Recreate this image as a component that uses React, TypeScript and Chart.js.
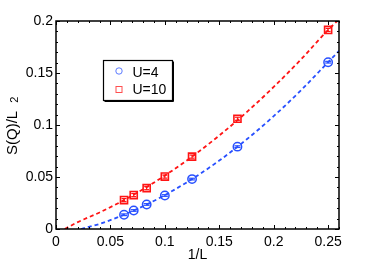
import React, { useEffect, useRef } from 'react';
import { Chart, registerables } from 'chart.js';

Chart.register(...registerables);

// ---- data ----
const invL = [0.0625, 0.0714, 0.0833, 0.1, 0.125, 0.1667, 0.25];
const sqU4 = [0.0137, 0.0178, 0.0236, 0.0322, 0.048, 0.0792, 0.1604];
const sqU10 = [0.0278, 0.0326, 0.0393, 0.0504, 0.0696, 0.106, 0.1914];
const errU4 = [0.0008, 0.0008, 0.0008, 0.0008, 0.0008, 0.0008, 0.0008];
const errU10 = [0.0015, 0.0015, 0.0015, 0.0015, 0.0015, 0.0015, 0.0015];

const fitX4 = [0.023, 0.04, 0.06, 0.08, 0.1, 0.125, 0.15, 0.175, 0.2, 0.225, 0.25, 0.26];
const fitU4 = [0, 0.0049, 0.0127, 0.0219, 0.0326, 0.048, 0.0658, 0.086, 0.1085, 0.1333, 0.1604, 0.1713];
const fitX10 = [0.008, 0.02, 0.04, 0.06, 0.08, 0.1, 0.125, 0.15, 0.175, 0.2, 0.225, 0.25, 0.26];
const fitU10 = [0, 0.0066, 0.0159, 0.0264, 0.0382, 0.0514, 0.0696, 0.0899, 0.1122, 0.1366, 0.163, 0.1914, 0.2015];

const xTicks = [0, 0.05, 0.1, 0.15, 0.2, 0.25];
const xTickLabels = ['0', '0.05', '0.1', '0.15', '0.2', '0.25'];
const yTicks = [0, 0.05, 0.1, 0.15, 0.2];
const yTickLabels = ['0', '0.05', '0.1', '0.15', '0.2'];
const seriesNames = ['U=4', 'U=10'];
const yTitleMain = 'S(Q)/L';
const yTitleSup = '2';

const BLUE = 'rgb(40,80,255)';
const RED = 'rgb(255,20,20)';
const FONT = "'Liberation Sans', Arial, Helvetica, sans-serif";

const decor = {
  id: 'decor',
  afterDatasetsDraw(chart: any) {
    const { ctx, chartArea: a, scales } = chart;
    const x = scales.x;
    const y = scales.y;
    const line = (x1: number, y1: number, x2: number, y2: number) => {
      ctx.beginPath();
      ctx.moveTo(x1, y1);
      ctx.lineTo(x2, y2);
      ctx.stroke();
    };
    ctx.save();
    // error-bar caps inside markers
    ctx.lineWidth = 1.2;
    const caps = (vals: number[], errs: number[], color: string, hw: number) => {
      ctx.strokeStyle = color;
      vals.forEach((v, i) => {
        const px = x.getPixelForValue(invL[i]);
        const p1 = y.getPixelForValue(v + errs[i]);
        const p2 = y.getPixelForValue(v - errs[i]);
        line(px - hw, p1, px + hw, p1);
        line(px - hw, p2, px + hw, p2);
        line(px, p1, px, p2);
      });
    };
    caps(sqU4, errU4, BLUE, 3);
    caps(sqU10, errU10, RED, 2.5);

    // ticks (inward, all four sides)
    ctx.strokeStyle = '#000';
    ctx.lineWidth = 1;
    for (let i = 0; i <= 26; i++) {
      const major = i % 5 === 0;
      const len = major ? 4 : 2;
      const px = Math.round(x.getPixelForValue(i / 100)) + 0.5;
      line(px, a.bottom, px, a.bottom - len);
      line(px, a.top, px, a.top + len);
    }
    for (let i = 0; i <= 20; i++) {
      const major = i % 5 === 0;
      const len = major ? 4 : 2;
      const py = Math.round(y.getPixelForValue(i / 100)) + 0.5;
      line(a.left, py, a.left + len, py);
      line(a.right, py, a.right - len, py);
    }
    // frame
    ctx.lineWidth = 1.5;
    ctx.strokeRect(a.left, a.top, a.right - a.left, a.bottom - a.top);

    // y-axis title with superscript
    ctx.fillStyle = '#000';
    ctx.save();
    ctx.translate(17, 155);
    ctx.rotate(-Math.PI / 2);
    ctx.textAlign = 'left';
    ctx.textBaseline = 'alphabetic';
    ctx.font = `15px ${FONT}`;
    ctx.fillText(yTitleMain, 0, 0);
    const w = ctx.measureText(yTitleMain).width;
    ctx.font = `11px ${FONT}`;
    ctx.fillText(yTitleSup, w + 8, 1);
    ctx.restore();

    // legend
    const lx = 103.5, ly = 60.5, lw = 69, lh = 40;
    ctx.fillStyle = '#fff';
    ctx.fillRect(lx, ly, lw, lh);
    ctx.strokeStyle = '#000';
    ctx.lineWidth = 1.2;
    ctx.strokeRect(lx, ly, lw, lh);
    ctx.lineWidth = 1;
    line(lx + 1, ly + lh + 1, lx + lw + 1, ly + lh + 1);
    line(lx + lw + 1, ly + 1, lx + lw + 1, ly + lh + 1);

    ctx.lineWidth = 1;
    ctx.strokeStyle = 'rgba(40,80,255,0.75)';
    ctx.beginPath();
    ctx.arc(119, 71, 3.2, 0, Math.PI * 2);
    ctx.stroke();
    ctx.strokeStyle = 'rgba(255,20,20,0.75)';
    ctx.strokeRect(116, 86.5, 6, 6);

    ctx.fillStyle = '#000';
    ctx.font = `14px ${FONT}`;
    ctx.textAlign = 'left';
    ctx.textBaseline = 'alphabetic';
    ctx.fillText(seriesNames[0], 132.5, 76.5);
    ctx.fillText(seriesNames[1], 132.5, 94);
    ctx.restore();
  },
};

export default function App() {
  const ref = useRef<HTMLCanvasElement>(null);
  useEffect(() => {
    if (!ref.current) return;
    Chart.defaults.font.family = FONT;
    Chart.defaults.font.size = 14;
    Chart.defaults.color = '#000';
    const chart = new Chart(ref.current, {
      type: 'line',
      data: {
        datasets: [
          {
            label: 'fitU4',
            data: fitX4.map((v, i) => ({ x: v, y: fitU4[i] })),
            borderColor: BLUE,
            borderWidth: 1.8,
            borderDash: [4, 3],
            pointRadius: 0,
            cubicInterpolationMode: 'monotone',
            fill: false,
          },
          {
            label: 'fitU10',
            data: fitX10.map((v, i) => ({ x: v, y: fitU10[i] })),
            borderColor: RED,
            borderWidth: 1.8,
            borderDash: [4, 3],
            pointRadius: 0,
            cubicInterpolationMode: 'monotone',
            fill: false,
          },
          {
            label: seriesNames[0],
            data: invL.map((v, i) => ({ x: v, y: sqU4[i] })),
            showLine: false,
            pointStyle: 'circle',
            pointRadius: 4.2,
            pointBorderWidth: 1.5,
            pointBorderColor: BLUE,
            pointBackgroundColor: 'rgba(0,0,0,0)',
            borderColor: BLUE,
          },
          {
            label: seriesNames[1],
            data: invL.map((v, i) => ({ x: v, y: sqU10[i] })),
            showLine: false,
            pointStyle: 'rect',
            pointRadius: 5,
            pointBorderWidth: 1.6,
            pointBorderColor: RED,
            pointBackgroundColor: 'rgba(0,0,0,0)',
            borderColor: RED,
          },
        ],
      },
      options: {
        responsive: false,
        animation: false,
        events: [],
        layout: { padding: { left: 0, right: 35, top: 21, bottom: 0 } },
        plugins: { legend: { display: false }, tooltip: { enabled: false } },
        scales: {
          x: {
            type: 'linear',
            min: 0,
            max: 0.26,
            grid: { display: false, drawTicks: false },
            border: { display: false },
            afterBuildTicks: (s: any) => {
              s.ticks = xTicks.map((v) => ({ value: v }));
            },
            afterFit: (s: any) => {
              s.height = 35;
            },
            ticks: {
              autoSkip: false,
              maxRotation: 0,
              padding: 5,
              font: { size: 14 },
              callback: (_v: any, i: number) => xTickLabels[i],
            },
            title: { display: true, text: '1/L', font: { size: 14 }, padding: { top: 0, bottom: 0 } },
          },
          y: {
            type: 'linear',
            min: 0,
            max: 0.2,
            grid: { display: false, drawTicks: false },
            border: { display: false },
            afterBuildTicks: (s: any) => {
              s.ticks = yTicks.map((v) => ({ value: v }));
            },
            afterFit: (s: any) => {
              s.width = 56;
            },
            ticks: {
              autoSkip: false,
              padding: 3,
              font: { size: 14 },
              callback: (_v: any, i: number) => yTickLabels[i],
            },
          },
        },
      },
      plugins: [decor],
    } as any);
    return () => chart.destroy();
  }, []);
  return (
    <div style={{ position: 'fixed', left: 0, top: 0, width: 374, height: 264, background: '#fff' }}>
      <canvas ref={ref} width={374} height={264} style={{ display: 'block', width: 374, height: 264 }} />
    </div>
  );
}
